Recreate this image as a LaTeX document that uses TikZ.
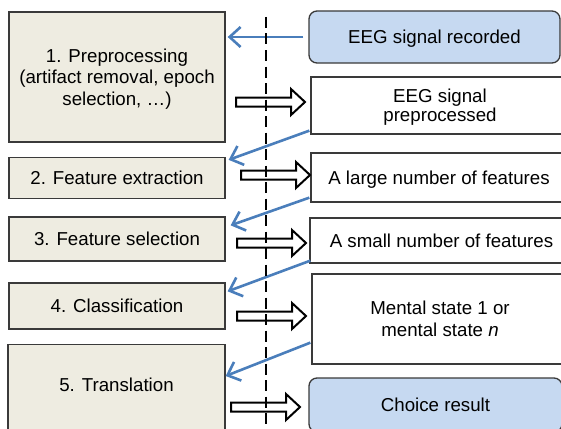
\documentclass[tikz,border=0pt]{standalone}
\usepackage{fontspec}
\setmainfont{Liberation Sans}
\usetikzlibrary{arrows.meta,calc}
\definecolor{boxtan}{HTML}{EEECE1}
\definecolor{boxblue}{HTML}{C6D9F1}
\definecolor{linkblue}{HTML}{4A7EBB}
\definecolor{edgegray}{HTML}{3A3A3A}
\begin{document}
\begin{tikzpicture}[x=1pt,y=-1pt,
  every node/.style={font=\fontsize{18.7}{21.5}\selectfont, inner sep=0pt},
  oneline/.style={text height=13.4pt, text depth=0pt},
  stage/.style={draw=edgegray, line width=1.3pt, fill=boxtan, rectangle, align=center},
  datum/.style={draw=edgegray, line width=1.3pt, fill=white, rectangle, align=center},
  endpoint/.style={datum, fill=boxblue, rounded corners=8pt},
  hollowline/.style={draw=black, line width=2pt, fill=white, line join=miter},
  hollowarrow/.pic={\path[hollowline] (0,-4.5) -- (55,-4.5) -- (55,-13) -- (69,0) -- (55,13) -- (55,4.5) -- (0,4.5) -- cycle;},
  link/.style={draw=linkblue, line width=2.6pt, -{Straight Barb[length=11pt,width=20pt,line width=2.6pt]}},
  guide/.style={draw=black, line width=1.2pt, dash pattern=on 11pt off 5.5pt},
]
\useasboundingbox (0,0) rectangle (561,428);
\clip (0,0) rectangle (561,428);

% left column: processing stages
\node[stage, minimum width=216pt, minimum height=130pt, text height=56.4pt, text depth=0pt] (s1) at (117,77)
  {1. Preprocessing\\(artifact removal, epoch\\selection, …)};
\node[stage, oneline, minimum width=216pt, minimum height=41pt] (s2) at (117,178) {2. Feature extraction};
\node[stage, oneline, minimum width=216pt, minimum height=44pt] (s3) at (117,239) {3. Feature selection};
\node[stage, oneline, minimum width=216pt, minimum height=46pt] (s4) at (117,306) {4. Classification};
\node[stage, minimum width=217pt, anchor=north, inner ysep=33.6pt, text height=13.4pt, text depth=30pt] (s5) at (116.5,344) {5. Translation};

% right column: data
\node[endpoint, oneline, minimum width=251pt, minimum height=52pt] (d1) at (434.5,37) {EEG signal recorded};
\node[datum, minimum width=258pt, minimum height=57pt, font=\fontsize{18.7}{18.5}\selectfont, text height=31.9pt, text depth=0pt] (d2) at (440,105.5) {EEG signal\\preprocessed};
\node[datum, oneline, minimum width=256pt, minimum height=49pt] (d3) at (439,177.5) {A large number of features};
\node[datum, oneline, minimum width=263pt, minimum height=45pt] (d4) at (441.5,240.5) {A small number of features};
\node[datum, minimum width=256pt, minimum height=90pt, font=\fontsize{18.7}{22}\selectfont, text height=35.4pt, text depth=0pt] (d5) at (440,319) {Mental state 1 or\\mental state \textit{n}};
\node[endpoint, oneline, minimum width=253pt, minimum height=54pt] (d6) at (435.5,405) {Choice result};

% hollow arrows: stage -> data
\pic (h1) at (236,102) {hollowarrow};
\pic (h2) at (241,175) {hollowarrow};
\pic (h3) at (237,243) {hollowarrow};
\pic (h4) at (237,316) {hollowarrow};
\pic (h5) at (231,407) {hollowarrow};

% blue links: data -> next stage
\draw[link] ($(d1.west)+(-5,0)$) -- ($(s1.east |- d1.west)+(2,0)$);
\draw[link] ($(d2.south west)+(-1,-4)$) -- ($(s2.north east)+(3,3)$);
\draw[link] ($(d3.south west)+(-1,-5)$) -- ($(s3.north east)+(5,9)$);
\draw[link] ($(d4.south west)+(1,-3)$) -- ($(s4.north east)+(2,9)$);
\draw[link] ($(d5.south west)+(-1,-22)$) -- ($(s5.north east)+(0,32)$);

% dashed divider
\coordinate (dtop) at (266,17);
\coordinate (dbot) at (266,432);
\draw[guide] (dtop) -- (dbot);
\end{tikzpicture}
\end{document}
